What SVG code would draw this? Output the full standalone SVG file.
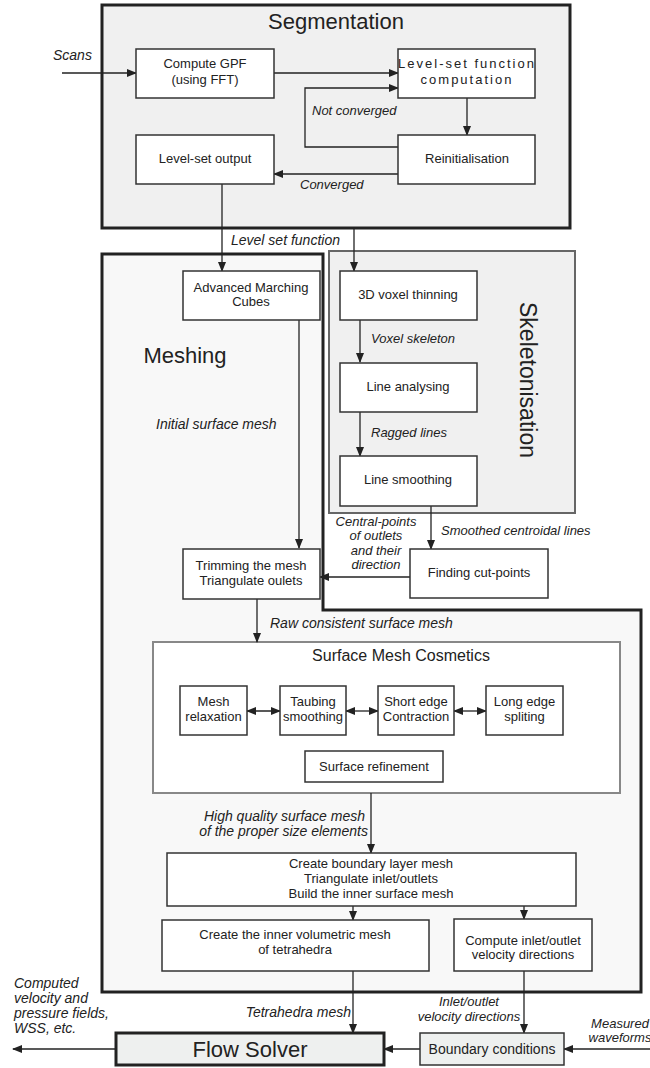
<svg xmlns="http://www.w3.org/2000/svg" width="650" height="1068" viewBox="0 0 650 1068">
<defs>
<marker id="ah" markerWidth="10" markerHeight="8" refX="9" refY="4" orient="auto" markerUnits="userSpaceOnUse">
<path d="M0,0 L10,4 L0,8 Z" fill="#222"/>
</marker>
<marker id="as" markerWidth="10" markerHeight="8" refX="1" refY="4" orient="auto" markerUnits="userSpaceOnUse">
<path d="M10,0 L0,4 L10,8 Z" fill="#222"/>
</marker>
<style>
text{font-family:"Liberation Sans",Arial,sans-serif;fill:#222}
.b{font-size:13px;text-anchor:middle}
.l{font-size:13px;font-style:italic}
.l14{font-size:14px;font-style:italic}
.t{font-size:22px;text-anchor:middle}
.box{fill:#fff;stroke:#333;stroke-width:1.5}
.c{fill:none;stroke:#222;stroke-width:1.3}
.ca{fill:none;stroke:#222;stroke-width:1.3;marker-end:url(#ah)}
.cd{fill:none;stroke:#222;stroke-width:1.3;marker-end:url(#ah);marker-start:url(#as)}
</style>
</defs>

<g id="meshing">
<path d="M102,254 H323 V610 H641 V992 H102 Z" fill="#f8f8f8" stroke="#222" stroke-width="3"/>
<text class="t" x="185" y="363">Meshing</text>
</g>
<g id="skeletonisation">
<rect x="329" y="251" width="246" height="262" fill="#f0f0f0" stroke="#666" stroke-width="2"/>
<text class="t" style="font-size:23px" transform="translate(520,380) rotate(90)">Skeletonisation</text>
</g>
<g id="segmentation">
<rect x="102" y="5" width="468" height="223" fill="#f0f0f0" stroke="#222" stroke-width="3"/>
<text class="t" x="336" y="29">Segmentation</text>
</g>
<g id="smc">
<rect x="153" y="642" width="467" height="151" fill="#fff" stroke="#888" stroke-width="2"/>
<text x="401" y="661" style="font-size:16px;text-anchor:middle">Surface Mesh Cosmetics</text>
</g>

<g id="connectors">
<path class="ca" d="M62,73 H136"/>
<path class="ca" d="M274,73 H398"/>
<path class="ca" d="M467,98 V135"/>
<path class="ca" d="M398,147 H305 V88 H398"/>
<path class="ca" d="M398,174 H274"/>
<path class="ca" d="M222,184 V271"/>
<path class="ca" d="M354,228 V271"/>
<path class="ca" d="M299,320 V548"/>
<path class="ca" d="M360,320 V362"/>
<path class="ca" d="M360,412 V456"/>
<path class="ca" d="M431,506 V549"/>
<path class="ca" d="M410,577 H320"/>
<path class="ca" d="M257,599 V642"/>
<path class="cd" d="M247,711 H280"/>
<path class="cd" d="M346,711 H378"/>
<path class="cd" d="M454,711 H486"/>
<path class="ca" d="M371,793 V853"/>
<path class="ca" d="M353,906 V920"/>
<path class="ca" d="M524,906 V919"/>
<path class="ca" d="M353,971 V1033"/>
<path class="ca" d="M524,971 V1033"/>
<path class="ca" d="M420,1049 H384"/>
<path class="ca" d="M650,1049 H564"/>
<path class="ca" d="M116,1049 H13"/>
<text class="l14" x="53" y="60">Scans</text>
<text class="l" x="312" y="115">Not converged</text>
<text class="l" x="300" y="189">Converged</text>
<text class="l14" x="231" y="245">Level set function</text>
<text class="l14" x="156" y="429">Initial surface mesh</text>
<text class="l" x="371" y="343">Voxel skeleton</text>
<text class="l" x="371" y="437">Ragged lines</text>
<text class="l" x="441" y="535">Smoothed centroidal lines</text>
<text class="l" style="text-anchor:middle" x="376" y="526">Central-points</text>
<text class="l" style="text-anchor:middle" x="376" y="540">of outlets</text>
<text class="l" style="text-anchor:middle" x="376" y="555">and their</text>
<text class="l" style="text-anchor:middle" x="376" y="569">direction</text>
<text class="l14" x="270" y="628">Raw consistent surface mesh</text>
<text class="l14" style="text-anchor:end" x="365" y="821">High quality surface mesh</text>
<text class="l14" style="text-anchor:end" x="368" y="836">of the proper size elements</text>
<text class="l14" style="text-anchor:end" x="351" y="1017">Tetrahedra mesh</text>
<text class="l" style="text-anchor:middle" x="469" y="1006">Inlet/outlet</text>
<text class="l" style="text-anchor:middle" x="469" y="1021">velocity directions</text>
<text class="l" style="text-anchor:middle" x="620" y="1028">Measured</text>
<text class="l" style="text-anchor:middle" x="620" y="1042">waveforms</text>
<text class="l14" x="14" y="988">Computed</text>
<text class="l14" x="14" y="1003">velocity and</text>
<text class="l14" x="14" y="1018">pressure fields,</text>
<text class="l14" x="14" y="1033">WSS, etc.</text>
</g>

<g id="gpf"><rect class="box" x="136" y="49" width="138" height="49"/>
<text class="b" x="205" y="68">Compute GPF</text><text class="b" x="205" y="84">(using FFT)</text></g>
<g id="levelset"><rect class="box" x="398" y="49" width="137" height="49"/>
<text class="b" x="467" y="68" style="letter-spacing:2px">Level-set function</text><text class="b" x="467" y="84" style="letter-spacing:2px">computation</text></g>
<g id="reinit"><rect class="box" x="398" y="135" width="137" height="49"/>
<text class="b" x="467" y="163">Reinitialisation</text></g>
<g id="lsoutput"><rect class="box" x="136" y="135" width="138" height="49"/>
<text class="b" x="205" y="163">Level-set output</text></g>
<g id="amc"><rect class="box" x="183" y="271" width="137" height="49"/>
<text class="b" x="251" y="292">Advanced Marching</text><text class="b" x="251" y="306">Cubes</text></g>
<g id="voxel"><rect class="box" x="340" y="271" width="137" height="49"/>
<text class="b" x="408" y="299">3D voxel thinning</text></g>
<g id="lineanalysing"><rect class="box" x="340" y="363" width="137" height="49"/>
<text class="b" x="408" y="391">Line analysing</text></g>
<g id="linesmoothing"><rect class="box" x="340" y="456" width="137" height="50"/>
<text class="b" x="408" y="484">Line smoothing</text></g>
<g id="cutpoints"><rect class="box" x="410" y="549" width="138" height="49"/>
<text class="b" x="479" y="577">Finding cut-points</text></g>
<g id="trim"><rect class="box" x="183" y="549" width="137" height="50"/>
<text class="b" x="251" y="570">Trimming the mesh</text><text class="b" x="251" y="585">Triangulate oulets</text></g>
<g id="relax"><rect class="box" x="180" y="686" width="67" height="49"/>
<text class="b" x="213.5" y="706">Mesh</text><text class="b" x="213.5" y="721">relaxation</text></g>
<g id="taubing"><rect class="box" x="280" y="686" width="66" height="49"/>
<text class="b" x="313" y="706">Taubing</text><text class="b" x="313" y="721">smoothing</text></g>
<g id="short"><rect class="box" x="378" y="686" width="76" height="49"/>
<text class="b" x="416" y="706">Short edge</text><text class="b" x="416" y="721">Contraction</text></g>
<g id="long"><rect class="box" x="486" y="686" width="77" height="49"/>
<text class="b" x="524.5" y="706">Long edge</text><text class="b" x="524.5" y="721">spliting</text></g>
<g id="refine"><rect class="box" x="305" y="751" width="138" height="31"/>
<text class="b" x="374" y="771">Surface refinement</text></g>
<g id="boundarylayer"><rect class="box" x="167" y="853" width="409" height="53"/>
<text class="b" x="371" y="868">Create boundary layer mesh</text><text class="b" x="371" y="883">Triangulate inlet/outlets</text><text class="b" x="371" y="898">Build the inner surface mesh</text></g>
<g id="volumetric"><rect class="box" x="162" y="920" width="267" height="51"/>
<text class="b" x="295" y="939">Create the inner volumetric mesh</text><text class="b" x="295" y="954">of tetrahedra</text></g>
<g id="velocity"><rect class="box" x="454" y="919" width="138" height="52"/>
<text class="b" x="523" y="945">Compute inlet/outlet</text><text class="b" x="523" y="959">velocity directions</text></g>
<g id="flowsolver"><rect x="116" y="1033" width="268" height="32" fill="#eef0ef" stroke="#222" stroke-width="3"/>
<text class="t" x="250" y="1057">Flow Solver</text></g>
<g id="bc"><rect x="420" y="1033" width="144" height="32" fill="#eef0ef" stroke="#333" stroke-width="1.5"/>
<text x="492" y="1054" style="font-size:14px;text-anchor:middle">Boundary conditions</text></g>
</svg>
